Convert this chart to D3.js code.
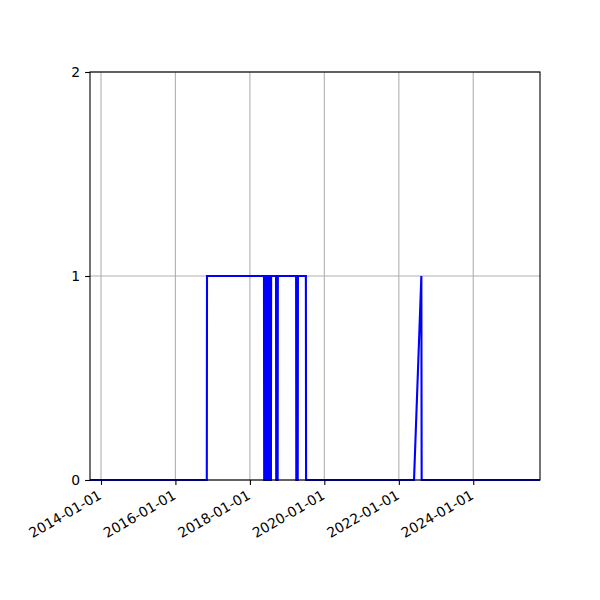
<!DOCTYPE html>
<html>
<head>
<meta charset="utf-8">
<script src="https://cdn.jsdelivr.net/npm/d3@7"></script>
<style>
  body { margin: 0; background: #fff; }
  text { font-family: "DejaVu Sans", sans-serif; font-size: 13.9px; fill: #000; }
</style>
</head>
<body>
<div id="chart"></div>
<script>
// series: 0/1 status sampled at irregular dates
const dates = [
  '2013-09-01', '2016-11-04', '2016-11-06',
  '2018-05-19', '2018-05-21', '2018-05-29', '2018-05-31',
  '2018-06-08', '2018-06-10', '2018-06-18', '2018-06-20',
  '2018-06-28', '2018-06-30', '2018-07-08', '2018-07-10',
  '2018-07-18', '2018-07-20', '2018-07-26', '2018-07-28',
  '2018-09-14', '2018-09-16', '2018-09-30', '2018-10-02',
  '2019-03-30', '2019-04-01', '2019-04-15', '2019-04-17',
  '2019-07-04', '2019-07-06',
  '2022-05-30', '2022-08-10', '2022-08-13',
  '2025-12-31'
];
const values = [
  0, 0, 1,
  1, 0, 0, 1,
  1, 0, 0, 1,
  1, 0, 0, 1,
  1, 0, 0, 1,
  1, 0, 0, 1,
  1, 0, 0, 1,
  1, 0,
  0, 1, 0,
  0
];
const xDomain = ['2013-09-15', '2025-10-17'];
const xTicks = ['2014-01-01', '2016-01-01', '2018-01-01', '2020-01-01', '2022-01-01', '2024-01-01'];
const yTicks = [0, 1, 2];

class Chart {
  constructor(opts) {
    this.element = opts.element;
    this.data = opts.data;
    this.draw();
  }

  draw() {
    this.width = 600;
    this.height = 600;
    this.margin = { top: 72, right: 60, bottom: 120, left: 90 };
    this.innerWidth = this.width - this.margin.left - this.margin.right;
    this.innerHeight = this.height - this.margin.top - this.margin.bottom;

    const svg = d3.select(this.element).append('svg')
      .attr('width', this.width)
      .attr('height', this.height);

    this.plot = svg.append('g')
      .attr('transform', `translate(${this.margin.left},${this.margin.top})`);

    this.createScales();
    this.addGrid();
    this.addLine();
    this.addAxes();
  }

  createScales() {
    const parse = d3.utcParse('%Y-%m-%d');
    this.xScale = d3.scaleUtc()
      .domain(xDomain.map(parse))
      .range([0, this.innerWidth]);
    this.yScale = d3.scaleLinear()
      .domain([0, 2])
      .range([this.innerHeight, 0]);
    this.tickDates = xTicks.map(parse);
  }

  addGrid() {
    const g = this.plot.append('g').attr('class', 'grid');
    g.selectAll('.vx').data(this.tickDates).enter().append('line')
      .attr('x1', d => this.xScale(d)).attr('x2', d => this.xScale(d))
      .attr('y1', 0).attr('y2', this.innerHeight)
      .attr('stroke', '#b0b0b0').attr('stroke-width', 1.1);
    g.selectAll('.hy').data(yTicks).enter().append('line')
      .attr('x1', 0).attr('x2', this.innerWidth)
      .attr('y1', d => this.yScale(d)).attr('y2', d => this.yScale(d))
      .attr('stroke', '#b0b0b0').attr('stroke-width', 1.1);
  }

  addLine() {
    this.plot.append('clipPath').attr('id', 'clip')
      .append('rect').attr('width', this.innerWidth).attr('height', this.innerHeight + 2).attr('y', -1);

    const line = d3.line()
      .x(d => this.xScale(d.date))
      .y(d => this.yScale(d.value));

    this.plot.append('path')
      .datum(this.data)
      .attr('clip-path', 'url(#clip)')
      .attr('fill', 'none')
      .attr('stroke', '#0000ff')
      .attr('stroke-width', 2.1)
      .attr('stroke-linejoin', 'miter')
      .attr('d', line);
  }

  addAxes() {
    const xAxis = d3.axisBottom(this.xScale)
      .tickValues(this.tickDates)
      .tickSize(4.9)
      .tickPadding(4.9)
      .tickFormat(d3.utcFormat('%Y-%m-%d'));

    const yAxis = d3.axisLeft(this.yScale)
      .tickValues(yTicks)
      .tickSize(4.9)
      .tickPadding(4.9)
      .tickFormat(d3.format('d'));

    const gx = this.plot.append('g')
      .attr('class', 'x axis')
      .attr('transform', `translate(0,${this.innerHeight})`)
      .call(xAxis);
    gx.select('.domain').remove();
    gx.selectAll('.tick line').attr('stroke', '#000').attr('stroke-width', 1.1);
    gx.selectAll('.tick text')
      .attr('font-family', null).attr('font-size', null)
      .style('text-anchor', 'end')
      .attr('y', 0).attr('dy', 0)
      .attr('transform', 'translate(1,18) rotate(-30)');

    const gy = this.plot.append('g')
      .attr('class', 'y axis')
      .call(yAxis);
    gy.select('.domain').remove();
    gy.selectAll('.tick line').attr('stroke', '#000').attr('stroke-width', 1.1);
    gy.selectAll('.tick text').attr('font-family', null).attr('font-size', null);

    // frame
    this.plot.append('rect')
      .attr('width', this.innerWidth).attr('height', this.innerHeight)
      .attr('fill', 'none').attr('stroke', '#000').attr('stroke-width', 1.1);
  }
}

const parseDate = d3.utcParse('%Y-%m-%d');
const series = dates.map((d, i) => ({ date: parseDate(d), value: values[i] }));

new Chart({ element: document.getElementById('chart'), data: series });
</script>
</body>
</html>
